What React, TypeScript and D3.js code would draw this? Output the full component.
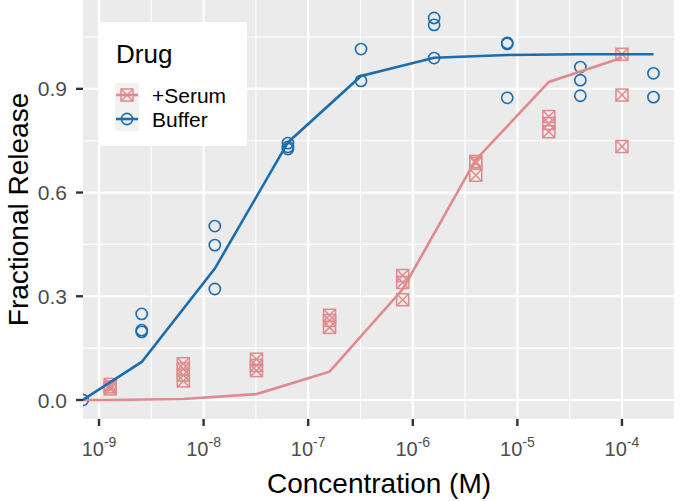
import React from "react";
import * as d3 from "d3";

// ---- data ----
const bufferConc = [7e-10, 2.56e-9, 2.56e-9, 2.56e-9, 1.28e-8, 1.28e-8, 1.28e-8, 6.4e-8, 6.4e-8, 6.4e-8, 3.2e-7, 3.2e-7, 1.6e-6, 1.6e-6, 1.6e-6, 8e-6, 8e-6, 8e-6, 4e-5, 4e-5, 4e-5, 2e-4, 2e-4];
const bufferResp = [0.0, 0.249, 0.202, 0.197, 0.503, 0.448, 0.321, 0.743, 0.732, 0.726, 1.015, 0.923, 1.105, 1.085, 0.989, 1.033, 1.03, 0.874, 0.963, 0.925, 0.88, 0.945, 0.876];
const serumConc = [1.28e-9, 1.28e-9, 1.28e-9, 6.4e-9, 6.4e-9, 6.4e-9, 6.4e-9, 3.2e-8, 3.2e-8, 3.2e-8, 1.6e-7, 1.6e-7, 1.6e-7, 8e-7, 8e-7, 8e-7, 4e-6, 4e-6, 4e-6, 2e-5, 2e-5, 2e-5, 1e-4, 1e-4, 1e-4];
const serumResp = [0.045, 0.038, 0.032, 0.105, 0.09, 0.072, 0.055, 0.118, 0.1, 0.085, 0.245, 0.23, 0.21, 0.36, 0.34, 0.29, 0.69, 0.685, 0.65, 0.82, 0.8, 0.776, 1.0, 0.882, 0.733];
const bufferFitConc = [7e-10, 2.56e-9, 1.28e-8, 6.4e-8, 3.2e-7, 1.6e-6, 8e-6, 4e-5, 2e-4];
const bufferFit = [0.0, 0.11, 0.38, 0.745, 0.937, 0.99, 0.998, 1.0, 1.0];
const serumFitConc = [7e-10, 1.28e-9, 6.4e-9, 3.2e-8, 1.6e-7, 8e-7, 4e-6, 2e-5, 1e-4];
const serumFit = [0.0, 0.0, 0.003, 0.017, 0.082, 0.32, 0.695, 0.92, 0.99];
const xTickExps = [-9, -8, -7, -6, -5, -4];
const yTicks = [0, 0.3, 0.6, 0.9];
const yMinor = [0.15, 0.45, 0.75, 1.05];
const legendLabels = ["+Serum", "Buffer"];

const W = 680, H = 501;
const PL = 83, PR = 675, PT = 0, PB = 419;
const BLUE = "#1B6DAD";
const PINK = "#DF8A8D";
const FONT = "'Liberation Sans', Arial, sans-serif";

export default function App() {
  const x = d3.scaleLog().domain([Math.pow(10, -9.153), Math.pow(10, -3.493)]).range([PL, PR]);
  const y = d3.scaleLinear().domain([-0.055, 1.157]).range([PB, PT]);
  const line = d3.line<[number, number]>().x(d => x(d[0])).y(d => y(d[1]));
  const bLine = line(bufferFitConc.map((c, i) => [c, bufferFit[i]]))!;
  const sLine = line(serumFitConc.map((c, i) => [c, serumFit[i]]))!;
  const xMinor = xTickExps.map(e => Math.pow(10, e + 0.5)).concat([Math.pow(10, -9.5)]);

  const square = (cx: number, cy: number, key: string, s = 6) => (
    <g key={key} stroke={PINK} strokeWidth={1.5} fill="none">
      <rect x={cx - s} y={cy - s} width={2 * s} height={2 * s} />
      <line x1={cx - s} y1={cy - s} x2={cx + s} y2={cy + s} />
      <line x1={cx - s} y1={cy + s} x2={cx + s} y2={cy - s} />
    </g>
  );

  return (
    <svg width={W} height={H} style={{ position: "absolute", left: 0, top: 0 }} fontFamily={FONT}>
      <defs>
        <clipPath id="panel"><rect x={PL} y={PT} width={PR - PL} height={PB - PT} /></clipPath>
      </defs>
      <rect x={0} y={0} width={W} height={H} fill="white" />
      <rect x={PL} y={PT} width={PR - PL} height={PB - PT} fill="#EBEBEB" />
      <g clipPath="url(#panel)">
        {xMinor.map((v, i) => (
          <line key={"xm" + i} x1={x(v)} x2={x(v)} y1={PT} y2={PB} stroke="white" strokeWidth={1.1} />
        ))}
        {yMinor.map((v, i) => (
          <line key={"ym" + i} x1={PL} x2={PR} y1={y(v)} y2={y(v)} stroke="white" strokeWidth={1.1} />
        ))}
        {xTickExps.map(e => (
          <line key={"xg" + e} x1={x(Math.pow(10, e))} x2={x(Math.pow(10, e))} y1={PT} y2={PB} stroke="white" strokeWidth={2.2} />
        ))}
        {yTicks.map(v => (
          <line key={"yg" + v} x1={PL} x2={PR} y1={y(v)} y2={y(v)} stroke="white" strokeWidth={2.2} />
        ))}
        {serumConc.map((c, i) => square(x(c), y(serumResp[i]), "s" + i))}
        {bufferConc.map((c, i) => (
          <circle key={"b" + i} cx={x(c)} cy={y(bufferResp[i])} r={5.6} fill="none" stroke={BLUE} strokeWidth={1.6} />
        ))}
        <path d={sLine} fill="none" stroke={PINK} strokeWidth={2.6} />
        <path d={bLine} fill="none" stroke={BLUE} strokeWidth={2.6} />
      </g>
      {/* axes ticks */}
      {yTicks.map(v => (
        <g key={"yt" + v}>
          <line x1={PL - 7} x2={PL} y1={y(v)} y2={y(v)} stroke="#333" strokeWidth={2.4} />
          <text x={67} y={y(v)} dy="0.36em" textAnchor="end" fontSize={21} fill="#4D4D4D">{v.toFixed(1)}</text>
        </g>
      ))}
      {xTickExps.map(e => (
        <g key={"xt" + e}>
          <line x1={x(Math.pow(10, e))} x2={x(Math.pow(10, e))} y1={PB} y2={PB + 7} stroke="#333" strokeWidth={2.4} />
          <text x={x(Math.pow(10, e))} y={456} textAnchor="middle" fontSize={20} fill="#4D4D4D">
            10<tspan dy={-9} fontSize={14}>{String(e).replace("-", "-")}</tspan>
          </text>
        </g>
      ))}
      <text x={(PL + PR) / 2} y={493} textAnchor="middle" fontSize={28} fill="black">Concentration (M)</text>
      <text transform={`translate(28, ${(PT + PB) / 2}) rotate(-90)`} textAnchor="middle" fontSize={28} fill="black">Fractional Release</text>
      {/* legend */}
      <rect x={100} y={22} width={147} height={124} fill="white" />
      <text x={116} y={63} fontSize={26} fill="black">Drug</text>
      {legendLabels.map((lab, i) => {
        const cy = 95 + i * 24;
        return (
          <g key={"lg" + i}>
            <rect x={115} y={cy - 12} width={24} height={24} fill="#F2F2F2" />
            <line x1={116} x2={138} y1={cy} y2={cy} stroke={i === 0 ? PINK : BLUE} strokeWidth={2.6} />
            {i === 0 ? square(127, cy, "lgs") : <circle cx={127} cy={cy} r={5.6} fill="none" stroke={BLUE} strokeWidth={1.6} />}
            <text x={152} y={cy + 7.5} fontSize={21} fill="black">{lab}</text>
          </g>
        );
      })}
    </svg>
  );
}
